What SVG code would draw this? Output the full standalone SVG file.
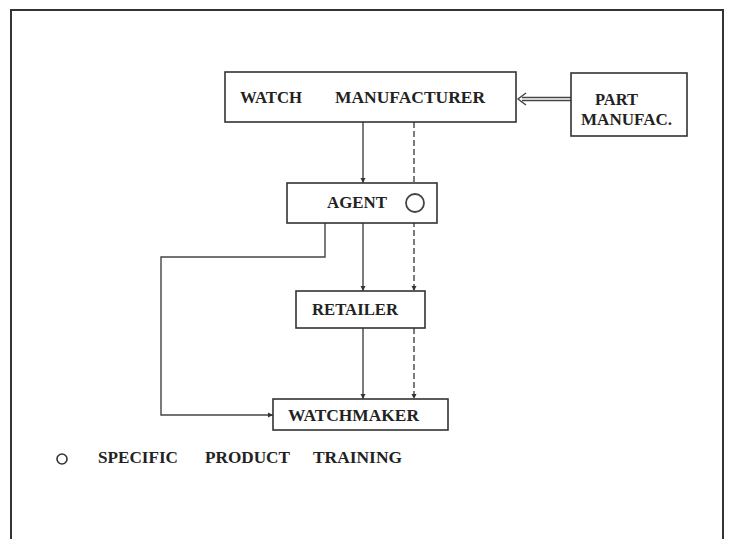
<svg xmlns="http://www.w3.org/2000/svg" width="730" height="539" viewBox="0 0 730 539">
<defs>
<marker id="ah" viewBox="0 0 10 10" refX="10" refY="5" markerWidth="5" markerHeight="7" markerUnits="userSpaceOnUse" orient="auto">
<path d="M0,0 L10,5 L0,10 z" fill="#333"/>
</marker>
</defs>
<style>
.box{fill:#fff;stroke:#333;stroke-width:1.6}
.t{font-family:"Liberation Serif","Times New Roman",serif;font-weight:bold;font-size:17px;fill:#222}
.c{fill:none;stroke:#444;stroke-width:1.4}
.d{stroke-dasharray:6 3}
</style>
<rect width="730" height="539" fill="#fff"/>
<path d="M11,545 V10 H723 V545" fill="none" stroke="#333" stroke-width="2"/>
<g id="connectors">
<path class="c" d="M363,122 V183" marker-end="url(#ah)"/>
<path class="c d" d="M414,122 V194"/>
<path class="c" d="M363,223 V291" marker-end="url(#ah)"/>
<path class="c d" d="M414,212 V291" marker-end="url(#ah)"/>
<path class="c" d="M325,223 V257 H161 V415 H273" marker-end="url(#ah)"/>
<path class="c" d="M363,328 V399" marker-end="url(#ah)"/>
<path class="c d" d="M414,328 V399" marker-end="url(#ah)"/>
<path class="c" d="M571,97.5 H522 M571,100.5 H522"/>
<path class="c" d="M526,93 L518,99 L526,105"/>
</g>
<g id="watch-manufacturer">
<rect class="box" x="225" y="72" width="291" height="50"/>
<text class="t" y="103"><tspan x="240" textLength="62" lengthAdjust="spacingAndGlyphs">WATCH</tspan><tspan x="335" textLength="150" lengthAdjust="spacingAndGlyphs">MANUFACTURER</tspan></text>
</g>
<g id="part-manufac">
<rect class="box" x="571" y="73" width="116" height="63"/>
<text class="t" x="595" y="105" textLength="43" lengthAdjust="spacingAndGlyphs">PART</text>
<text class="t" x="581" y="125" textLength="91" lengthAdjust="spacingAndGlyphs">MANUFAC.</text>
</g>
<g id="agent">
<rect class="box" x="287" y="183" width="150" height="40"/>
<text class="t" x="327" y="208" textLength="60" lengthAdjust="spacingAndGlyphs">AGENT</text>
<circle cx="415" cy="203" r="9" fill="none" stroke="#444" stroke-width="1.8"/>
</g>
<g id="retailer">
<rect class="box" x="296" y="291" width="129" height="37"/>
<text class="t" x="312" y="315" textLength="86" lengthAdjust="spacingAndGlyphs">RETAILER</text>
</g>
<g id="watchmaker">
<rect class="box" x="273" y="399" width="175" height="31"/>
<text class="t" x="288" y="421" textLength="131" lengthAdjust="spacingAndGlyphs">WATCHMAKER</text>
</g>
<g id="legend">
<circle cx="62" cy="459" r="5" fill="none" stroke="#333" stroke-width="1.6"/>
<text class="t" y="463"><tspan x="98" textLength="80" lengthAdjust="spacingAndGlyphs">SPECIFIC</tspan><tspan x="205" textLength="85" lengthAdjust="spacingAndGlyphs">PRODUCT</tspan><tspan x="313" textLength="89" lengthAdjust="spacingAndGlyphs">TRAINING</tspan></text>
</g>
</svg>
